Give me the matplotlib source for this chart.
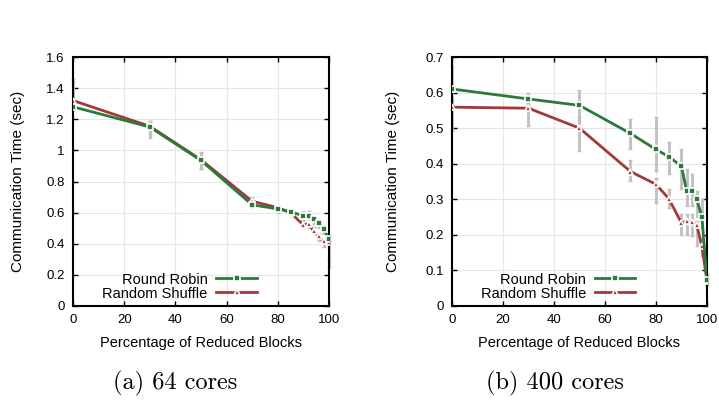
import matplotlib
matplotlib.use("Agg")
import matplotlib.pyplot as plt
import numpy as np

# ---- data ----
x_pct = [0, 30, 50, 70, 80, 85, 90, 92, 94, 96, 98, 100]

# (a) 64 cores
rr_64 = [1.28, 1.15, 0.935, 0.65, 0.624, 0.605, 0.58, 0.576, 0.559, 0.533, 0.495, 0.43]
rs_64 = [1.32, 1.155, 0.94, 0.673, 0.632, 0.60, 0.52, 0.53, 0.48, 0.447, 0.415, 0.41]
rr_64_lo = [1.26, 1.10, 0.88, 0.63, 0.60, 0.58, 0.55, 0.55, 0.53, 0.50, 0.46, 0.30]
rr_64_hi = [1.46, 1.19, 0.99, 0.70, 0.64, 0.62, 0.61, 0.61, 0.58, 0.56, 0.52, 0.45]
rs_64_lo = [1.28, 1.08, 0.88, 0.64, 0.61, 0.58, 0.50, 0.50, 0.46, 0.42, 0.38, 0.25]
rs_64_hi = [1.44, 1.19, 0.98, 0.70, 0.65, 0.62, 0.55, 0.56, 0.51, 0.47, 0.44, 0.42]

# (b) 400 cores
rr_400 = [0.61, 0.582, 0.564, 0.485, 0.44, 0.42, 0.393, 0.323, 0.323, 0.30, 0.25, 0.073]
rs_400 = [0.559, 0.556, 0.50, 0.378, 0.342, 0.302, 0.233, 0.238, 0.236, 0.227, 0.168, 0.069]
rr_400_lo = [0.55, 0.565, 0.52, 0.44, 0.38, 0.37, 0.33, 0.28, 0.28, 0.25, 0.22, 0.06]
rr_400_hi = [0.675, 0.60, 0.606, 0.526, 0.53, 0.46, 0.44, 0.385, 0.37, 0.323, 0.30, 0.09]
rs_400_lo = [0.492, 0.506, 0.436, 0.352, 0.29, 0.276, 0.20, 0.20, 0.196, 0.168, 0.14, 0.06]
rs_400_hi = [0.58, 0.57, 0.53, 0.41, 0.36, 0.33, 0.26, 0.26, 0.26, 0.24, 0.19, 0.08]

series_labels = ["Round Robin", "Random Shuffle"]
xlabel = "Percentage of Reduced Blocks"
ylabel = "Communication Time (sec)"
captions = ["(a) 64 cores", "(b) 400 cores"]

GREEN = "#2b7a3b"
RED = "#a23a3a"
GRAY = "#c0c0c0"

plt.rcParams["font.family"] = ["Liberation Sans", "DejaVu Sans"]

fig = plt.figure(figsize=(7.19, 4.05), dpi=100)
ax1 = fig.add_axes([73/719, 99/405, 256/719, 249/405])
ax2 = fig.add_axes([452/719, 99/405, 255/719, 249/405])


def draw(ax, rr, rs, rr_lo, rr_hi, rs_lo, rs_hi, ymax, yticks, ytl, ylpad):
    x = np.array(x_pct)
    for vals, lo, hi in ((rr, rr_lo, rr_hi), (rs, rs_lo, rs_hi)):
        v = np.array(vals)
        yerr = [v - np.array(lo), np.array(hi) - v]
        ax.errorbar(x, v, yerr=yerr, fmt="none", ecolor=GRAY, elinewidth=2.0,
                    capsize=1.5, capthick=1.0, zorder=2, clip_on=False)
    ax.plot(x, rr, color=GREEN, lw=2.0, marker="s", ms=5, mfc=GREEN,
            mec="white", mew=1.2, label=series_labels[0], zorder=4)
    ax.plot(x, rs, color=RED, lw=2.0, marker="^", ms=4.5, mfc=RED,
            mec="white", mew=1.2, label=series_labels[1], zorder=3)
    ax.set_xlim(0, 100)
    ax.set_ylim(0, ymax)
    ax.set_xticks([0, 20, 40, 60, 80, 100])
    ax.set_yticks(yticks)
    ax.set_yticklabels(ytl)
    ax.grid(True, color="#e6e6e6", lw=0.8)
    ax.set_axisbelow(True)
    ax.tick_params(direction="in", length=3.5, width=1.0, top=True, right=True,
                   labelsize=9.5, pad=6)
    for s in ax.spines.values():
        s.set_linewidth(1.5)
    ax.set_xlabel(xlabel, fontsize=10.5, labelpad=7)
    ax.set_ylabel(ylabel, fontsize=11, labelpad=ylpad)
    leg = ax.legend(loc="lower right", bbox_to_anchor=(0.765, -0.025), frameon=False,
                    markerfirst=False, fontsize=10.5, handlelength=2.8,
                    handletextpad=0.6, labelspacing=0.0, borderpad=0.3)
    return leg


draw(ax1, rr_64, rs_64, rr_64_lo, rr_64_hi, rs_64_lo, rs_64_hi, 1.6,
     [0, 0.2, 0.4, 0.6, 0.8, 1.0, 1.2, 1.4, 1.6],
     ["0", "0.2", "0.4", "0.6", "0.8", "1", "1.2", "1.4", "1.6"], 15)
draw(ax2, rr_400, rs_400, rr_400_lo, rr_400_hi, rs_400_lo, rs_400_hi, 0.7,
     [0, 0.1, 0.2, 0.3, 0.4, 0.5, 0.6, 0.7],
     ["0", "0.1", "0.2", "0.3", "0.4", "0.5", "0.6", "0.7"], 18)

fig.text(175/719, 1 - 383/405, captions[0], fontfamily="cmr10", fontsize=17.5,
         ha="center", va="center")
fig.text(555/719, 1 - 383/405, captions[1], fontfamily="cmr10", fontsize=17.5,
         ha="center", va="center")

fig.savefig("out.png", dpi=100)
